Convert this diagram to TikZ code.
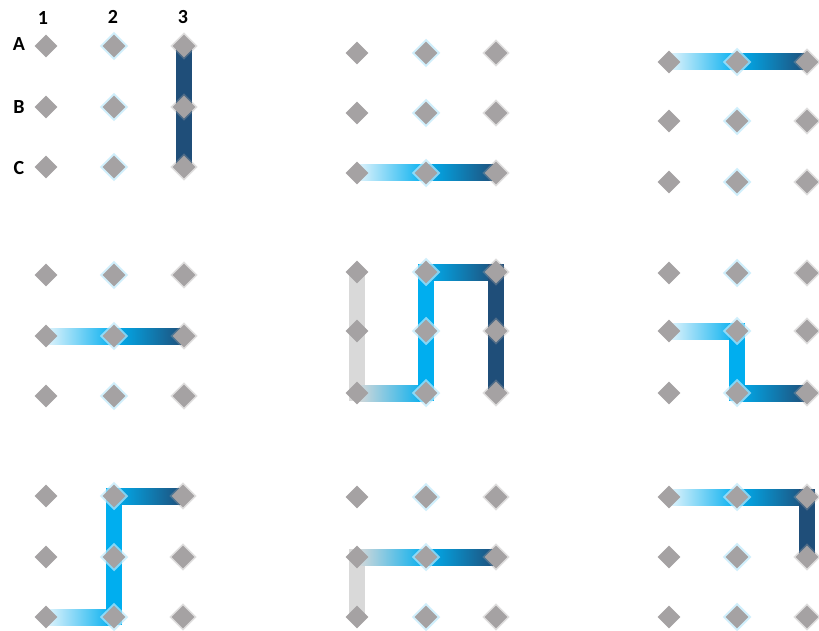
\documentclass[tikz,border=0pt]{standalone}
\usepackage{fontspec}
\setmainfont{Carlito}
\usetikzlibrary{shapes.geometric,backgrounds,calc}
\definecolor{dotgray}{HTML}{A5A2A3}
\definecolor{brightblue}{HTML}{00AEEF}
\definecolor{navy}{HTML}{1F4E79}
\definecolor{paleblue}{HTML}{E3F4FC}
\definecolor{bargray}{HTML}{D9D9D9}
\definecolor{glowblue}{HTML}{BDE9FB}
\pgfdeclarehorizontalshading{fullgrad}{100bp}{color(0bp)=(paleblue); color(25bp)=(paleblue); color(50bp)=(brightblue); color(75bp)=(navy); color(100bp)=(navy)}
\pgfdeclarehorizontalshading{grayfullgrad}{100bp}{color(0bp)=(bargray); color(25bp)=(bargray); color(50bp)=(brightblue); color(75bp)=(navy); color(100bp)=(navy)}
\pgfdeclarehorizontalshading{lightbright}{100bp}{color(0bp)=(paleblue); color(25bp)=(paleblue); color(75bp)=(brightblue); color(100bp)=(brightblue)}
\pgfdeclarehorizontalshading{graybright}{100bp}{color(0bp)=(bargray); color(25bp)=(bargray); color(75bp)=(brightblue); color(100bp)=(brightblue)}
\pgfdeclarehorizontalshading{brightdark}{100bp}{color(0bp)=(brightblue); color(25bp)=(brightblue); color(75bp)=(navy); color(100bp)=(navy)}
\tikzset{
  dotA/.style={diamond, aspect=1, fill=dotgray, minimum width=23pt, minimum height=23pt, inner sep=0pt},
  dotB/.style={dotA, preaction={draw=glowblue, line width=4pt, opacity=0.7}},
  dotC/.style={dotA, preaction={draw=dotgray, line width=3pt, opacity=0.35}},
  lab/.style={font=\bfseries\fontsize{20}{20}\selectfont, inner sep=0pt},
}
\begin{document}
\begin{tikzpicture}[x=1pt,y=-1pt]
\useasboundingbox (0,0) rectangle (819,631);
% labels
\node[lab] (col1) at (43,18) {1};
\node[lab] (col2) at (113,17) {2};
\node[lab] (col3) at (183,17) {3};
\node[lab] (rowA) at (19,44) {A};
\node[lab] (rowB) at (19,107) {B};
\node[lab] (rowC) at (19,168) {C};
% dots
\foreach \p/\xa/\xb/\xc/\ya/\yb/\yc in {1/46/114/184/46/107/167, 2/357/426/496/53/113/173, 3/669/737/807/62/121/182, 4/46/114/184/275/336/396, 5/357/426/496/272/331/393, 6/669/737/807/273/331/393, 7/46/114/183/496/557/617, 8/357/426/496/497/557/617, 9/669/737/807/497/557/617}{
  \node[dotA] (p\p-A1) at (\xa,\ya) {};
  \node[dotA] (p\p-B1) at (\xa,\yb) {};
  \node[dotA] (p\p-C1) at (\xa,\yc) {};
  \node[dotB] (p\p-A2) at (\xb,\ya) {};
  \node[dotB] (p\p-B2) at (\xb,\yb) {};
  \node[dotB] (p\p-C2) at (\xb,\yc) {};
  \node[dotC] (p\p-A3) at (\xc,\ya) {};
  \node[dotC] (p\p-B3) at (\xc,\yb) {};
  \node[dotC] (p\p-C3) at (\xc,\yc) {};
}
\begin{pgfonlayer}{background}
\fill[white] (0,0) rectangle (819,631);
% panel 1
\fill[navy] ($(p1-A3.center)+(-8,0)$) rectangle ($(p1-C3.center)+(8,0)$);
% panel 2
\shade[shading=fullgrad] ($(p2-C1.center)+(0,-8)$) rectangle ($(p2-C3.center)+(0,8)$);
% panel 3
\shade[shading=fullgrad] ($(p3-A1.center)+(0,-8)$) rectangle ($(p3-A3.center)+(0,8)$);
% panel 4
\shade[shading=fullgrad] ($(p4-B1.center)+(0,-8)$) rectangle ($(p4-B3.center)+(0,8)$);
% panel 5
\fill[bargray] ($(p5-A1.center)+(-8,0)$) rectangle ($(p5-C1.center)+(8,8)$);
\shade[shading=graybright] ($(p5-C1.center)+(0,-8)$) rectangle ($(p5-C2.center)+(0,8)$);
\fill[brightblue] ($(p5-A2.center)+(-8,-8)$) rectangle ($(p5-C2.center)+(8,8)$);
\shade[shading=brightdark] ($(p5-A2.center)+(0,-8)$) rectangle ($(p5-A3.center)+(0,8)$);
\fill[navy] ($(p5-A3.center)+(-8,-8)$) rectangle ($(p5-C3.center)+(8,0)$);
% panel 6
\shade[shading=lightbright] ($(p6-B1.center)+(0,-8)$) rectangle ($(p6-B2.center)+(0,8)$);
\fill[brightblue] ($(p6-B2.center)+(-8,-8)$) rectangle ($(p6-C2.center)+(8,8)$);
\shade[shading=brightdark] ($(p6-C2.center)+(0,-8)$) rectangle ($(p6-C3.center)+(0,8)$);
% panel 7
\shade[shading=lightbright] ($(p7-C1.center)+(0,-8)$) rectangle ($(p7-C2.center)+(0,8)$);
\fill[brightblue] ($(p7-A2.center)+(-8,-8)$) rectangle ($(p7-C2.center)+(8,8)$);
\shade[shading=brightdark] ($(p7-A2.center)+(0,-8)$) rectangle ($(p7-A3.center)+(0,8)$);
% panel 8
\fill[bargray] ($(p8-B1.center)+(-8,-8)$) rectangle ($(p8-C1.center)+(8,0)$);
\shade[shading=grayfullgrad] ($(p8-B1.center)+(0,-8)$) rectangle ($(p8-B3.center)+(0,8)$);
% panel 9
\shade[shading=fullgrad] ($(p9-A1.center)+(0,-8)$) rectangle ($(p9-A3.center)+(0,8)$);
\fill[navy] ($(p9-A3.center)+(-8,-8)$) rectangle ($(p9-B3.center)+(8,0)$);
\end{pgfonlayer}
\end{tikzpicture}
\end{document}
